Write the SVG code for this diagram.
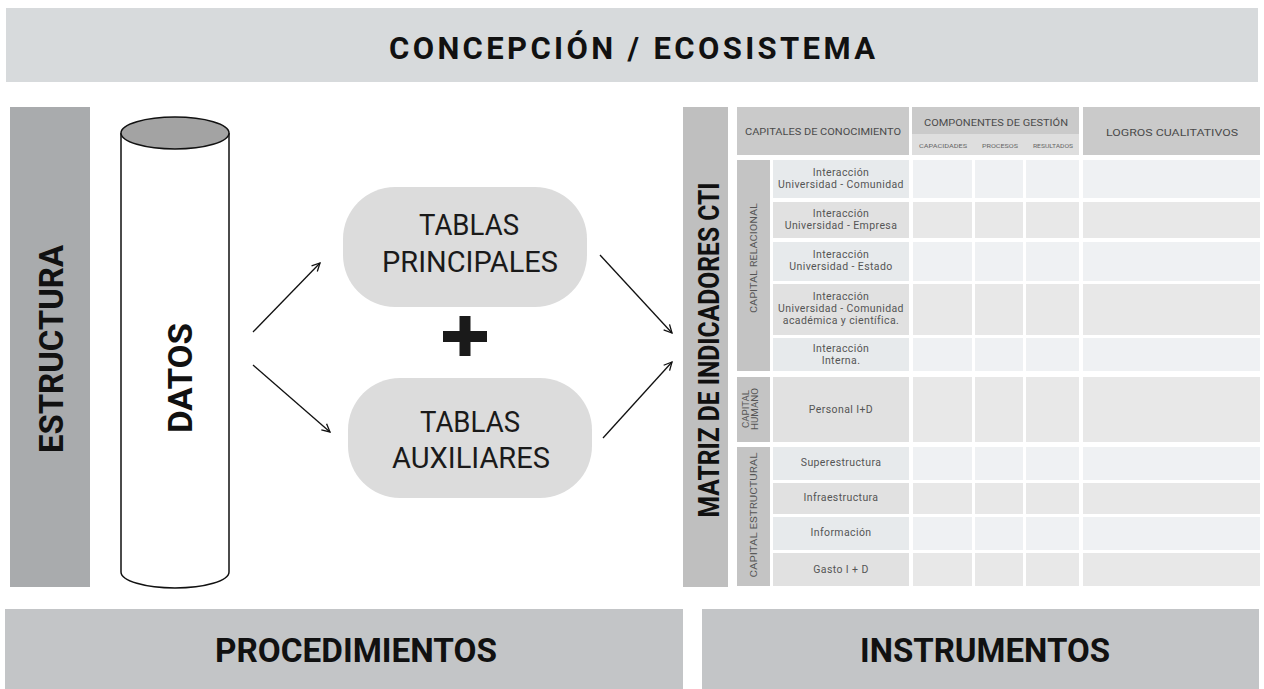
<svg xmlns="http://www.w3.org/2000/svg" width="1264" height="689" viewBox="0 0 1264 689">
<style>
.bold{font-family:Roboto,"Liberation Sans",sans-serif;font-weight:700;fill:#111}
.pill{fill:#dcdcdc}
.pt{font-family:Roboto,"Liberation Sans",sans-serif;font-weight:400;font-size:29px;fill:#1a1a1a;text-anchor:middle}
.tt{font-family:Roboto,"Liberation Sans",sans-serif;font-weight:400;font-size:10.5px;letter-spacing:0.4px;fill:#555;text-anchor:middle}
.ts2{font-family:Roboto,"Liberation Sans",sans-serif;font-weight:400;font-size:9.5px;fill:#555;text-anchor:middle}
.th{font-family:Roboto,"Liberation Sans",sans-serif;font-weight:400;font-size:9.5px;fill:#4a4a4a;text-anchor:middle}
.ts{font-family:Roboto,"Liberation Sans",sans-serif;font-weight:400;font-size:5px;fill:#666;text-anchor:middle}
.hd{fill:#cacaca}
.sub{fill:#dedede}
.side{fill:#c4c4c4}
.ll{fill:#e7eaec}
.dl{fill:#e1e1e1}
.lc{fill:#eff1f3}
.dc{fill:#e8e8e8}
.conn{stroke:#111;stroke-width:1.3;fill:none;marker-end:url(#arr)}
</style>
<defs>
<marker id="arr" viewBox="0 0 10 10" refX="9" refY="5" markerWidth="10" markerHeight="10" markerUnits="userSpaceOnUse" orient="auto">
<path d="M1,1 L9,5 L1,9" fill="none" stroke="#111" stroke-width="1.3"/>
</marker>
</defs>
<rect width="1264" height="689" fill="#ffffff"/>

<g id="concepcion">
<rect x="6" y="8" width="1252" height="74" fill="#d7dadc"/>
<text class="bold" x="632" y="59" font-size="31" text-anchor="middle" textLength="486" lengthAdjust="spacing">CONCEPCIÓN / ECOSISTEMA</text>
</g>

<g id="estructura">
<rect x="10" y="107" width="80" height="480" fill="#a9abad"/>
<text class="bold" transform="translate(63,349) rotate(-90)" font-size="34" text-anchor="middle" textLength="208" lengthAdjust="spacingAndGlyphs">ESTRUCTURA</text>
</g>

<g id="datos">
<path d="M121,133 L121,572 A54,16 0 0 0 229,572 L229,133" fill="#ffffff" stroke="#111" stroke-width="1.5"/>
<ellipse cx="175" cy="133" rx="54" ry="16" fill="#a3a3a3" stroke="#111" stroke-width="1.5"/>
<text class="bold" transform="translate(192,378) rotate(-90)" font-size="34" text-anchor="middle" textLength="110" lengthAdjust="spacingAndGlyphs">DATOS</text>
</g>

<g id="tablas-principales">
<rect class="pill" x="343" y="187" width="244" height="120" rx="52" ry="52"/>
<text class="pt" x="469" y="235" textLength="100" lengthAdjust="spacingAndGlyphs">TABLAS</text>
<text class="pt" x="470" y="272" textLength="176" lengthAdjust="spacingAndGlyphs">PRINCIPALES</text>
</g>

<g id="plus">
<rect x="443" y="331" width="44" height="11" fill="#1a1a1a"/>
<rect x="459.5" y="316" width="11" height="40" fill="#1a1a1a"/>
</g>

<g id="tablas-auxiliares">
<rect class="pill" x="348" y="378" width="244" height="120" rx="52" ry="52"/>
<text class="pt" x="470" y="432" textLength="100" lengthAdjust="spacingAndGlyphs">TABLAS</text>
<text class="pt" x="471" y="468" textLength="158" lengthAdjust="spacingAndGlyphs">AUXILIARES</text>
</g>

<g id="connectors">
<line class="conn" x1="253" y1="332" x2="320" y2="263"/>
<line class="conn" x1="253" y1="365" x2="330" y2="432"/>
<line class="conn" x1="600" y1="255" x2="672" y2="333"/>
<line class="conn" x1="603" y1="438" x2="672" y2="362"/>
</g>

<g id="matriz">
<rect x="683" y="107" width="45" height="480" fill="#bfbfbf"/>
<text class="bold" transform="translate(719,350) rotate(-90)" font-size="29" text-anchor="middle" textLength="335" lengthAdjust="spacingAndGlyphs">MATRIZ DE INDICADORES CTI</text>
</g>

<g id="tabla-matriz">
<rect class="hd" x="737" y="107" width="172" height="48"/>
<text class="th" x="823" y="135" textLength="156" lengthAdjust="spacingAndGlyphs">CAPITALES DE CONOCIMIENTO</text>
<rect class="hd" x="912" y="107" width="167" height="48"/>
<rect class="sub" x="912" y="134" width="167" height="21"/>
<text class="th" x="996" y="126" textLength="144" lengthAdjust="spacingAndGlyphs">COMPONENTES DE GESTIÓN</text>
<text class="ts" x="943" y="148" textLength="48" lengthAdjust="spacingAndGlyphs">CAPACIDADES</text>
<text class="ts" x="1000" y="148" textLength="36" lengthAdjust="spacingAndGlyphs">PROCESOS</text>
<text class="ts" x="1053" y="148" textLength="40" lengthAdjust="spacingAndGlyphs">RESULTADOS</text>
<rect class="hd" x="1083" y="107" width="177" height="48"/>
<text class="th" x="1172" y="136" textLength="132" lengthAdjust="spacingAndGlyphs">LOGROS CUALITATIVOS</text>

<rect class="side" x="737" y="160" width="33" height="211"/>
<text class="ts2" transform="translate(757,258) rotate(-90)" textLength="110" lengthAdjust="spacingAndGlyphs">CAPITAL  RELACIONAL</text>
<rect class="side" x="737" y="377" width="33" height="65"/>
<text class="ts2" transform="translate(749,409) rotate(-90)" font-size="8.5" textLength="38" lengthAdjust="spacingAndGlyphs">CAPITAL</text>
<text class="ts2" transform="translate(758,409) rotate(-90)" font-size="8.5" textLength="42" lengthAdjust="spacingAndGlyphs">HUMANO</text>
<rect class="side" x="737" y="447" width="33" height="139"/>
<text class="ts2" transform="translate(757,515) rotate(-90)" textLength="125" lengthAdjust="spacingAndGlyphs">CAPITAL  ESTRUCTURAL</text>

<g id="row1">
<rect class="ll" x="773" y="160" width="136" height="38"/>
<rect class="lc" x="913" y="160" width="59" height="38"/><rect class="lc" x="975" y="160" width="48" height="38"/><rect class="lc" x="1026" y="160" width="53" height="38"/><rect class="lc" x="1083" y="160" width="177" height="38"/>
<text class="tt" x="841" y="176">Interacción</text>
<text class="tt" x="841" y="188">Universidad - Comunidad</text>
</g>
<g id="row2">
<rect class="dl" x="773" y="202" width="136" height="36"/>
<rect class="dc" x="913" y="202" width="59" height="36"/><rect class="dc" x="975" y="202" width="48" height="36"/><rect class="dc" x="1026" y="202" width="53" height="36"/><rect class="dc" x="1083" y="202" width="177" height="36"/>
<text class="tt" x="841" y="217">Interacción</text>
<text class="tt" x="841" y="229">Universidad - Empresa</text>
</g>
<g id="row3">
<rect class="ll" x="773" y="242" width="136" height="39"/>
<rect class="lc" x="913" y="242" width="59" height="39"/><rect class="lc" x="975" y="242" width="48" height="39"/><rect class="lc" x="1026" y="242" width="53" height="39"/><rect class="lc" x="1083" y="242" width="177" height="39"/>
<text class="tt" x="841" y="258">Interacción</text>
<text class="tt" x="841" y="270">Universidad - Estado</text>
</g>
<g id="row4">
<rect class="dl" x="773" y="284" width="136" height="51"/>
<rect class="dc" x="913" y="284" width="59" height="51"/><rect class="dc" x="975" y="284" width="48" height="51"/><rect class="dc" x="1026" y="284" width="53" height="51"/><rect class="dc" x="1083" y="284" width="177" height="51"/>
<text class="tt" x="841" y="300">Interacción</text>
<text class="tt" x="841" y="312">Universidad - Comunidad</text>
<text class="tt" x="841" y="324">académica y científica.</text>
</g>
<g id="row5">
<rect class="ll" x="773" y="338" width="136" height="33"/>
<rect class="lc" x="913" y="338" width="59" height="33"/><rect class="lc" x="975" y="338" width="48" height="33"/><rect class="lc" x="1026" y="338" width="53" height="33"/><rect class="lc" x="1083" y="338" width="177" height="33"/>
<text class="tt" x="841" y="352">Interacción</text>
<text class="tt" x="841" y="364">Interna.</text>
</g>
<g id="row6">
<rect class="dl" x="773" y="377" width="136" height="65"/>
<rect class="dc" x="913" y="377" width="59" height="65"/><rect class="dc" x="975" y="377" width="48" height="65"/><rect class="dc" x="1026" y="377" width="53" height="65"/><rect class="dc" x="1083" y="377" width="177" height="65"/>
<text class="tt" x="841" y="413">Personal I+D</text>
</g>
<g id="row7">
<rect class="ll" x="773" y="447" width="136" height="33"/>
<rect class="lc" x="913" y="447" width="59" height="33"/><rect class="lc" x="975" y="447" width="48" height="33"/><rect class="lc" x="1026" y="447" width="53" height="33"/><rect class="lc" x="1083" y="447" width="177" height="33"/>
<text class="tt" x="841" y="466">Superestructura</text>
</g>
<g id="row8">
<rect class="dl" x="773" y="483" width="136" height="31"/>
<rect class="dc" x="913" y="483" width="59" height="31"/><rect class="dc" x="975" y="483" width="48" height="31"/><rect class="dc" x="1026" y="483" width="53" height="31"/><rect class="dc" x="1083" y="483" width="177" height="31"/>
<text class="tt" x="841" y="501">Infraestructura</text>
</g>
<g id="row9">
<rect class="ll" x="773" y="517" width="136" height="33"/>
<rect class="lc" x="913" y="517" width="59" height="33"/><rect class="lc" x="975" y="517" width="48" height="33"/><rect class="lc" x="1026" y="517" width="53" height="33"/><rect class="lc" x="1083" y="517" width="177" height="33"/>
<text class="tt" x="841" y="536">Información</text>
</g>
<g id="row10">
<rect class="dl" x="773" y="553" width="136" height="33"/>
<rect class="dc" x="913" y="553" width="59" height="33"/><rect class="dc" x="975" y="553" width="48" height="33"/><rect class="dc" x="1026" y="553" width="53" height="33"/><rect class="dc" x="1083" y="553" width="177" height="33"/>
<text class="tt" x="841" y="573">Gasto I + D</text>
</g>
</g>

<g id="procedimientos">
<rect x="5" y="609" width="678" height="80" fill="#c3c5c7"/>
<text class="bold" x="356" y="662" font-size="34" text-anchor="middle" textLength="282" lengthAdjust="spacingAndGlyphs">PROCEDIMIENTOS</text>
</g>

<g id="instrumentos">
<rect x="702" y="609" width="557" height="80" fill="#c3c5c7"/>
<text class="bold" x="985" y="662" font-size="34" text-anchor="middle" textLength="250" lengthAdjust="spacingAndGlyphs">INSTRUMENTOS</text>
</g>
</svg>
